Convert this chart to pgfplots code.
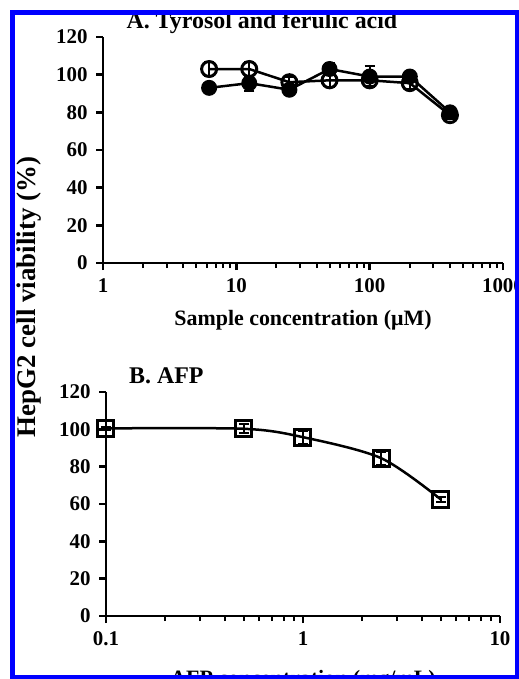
\documentclass[border=0pt]{standalone}
\usepackage{pgfplots}
\pgfplotsset{compat=1.18}
\usepackage{fontspec}
\setmainfont{Liberation Serif}

\pgfplotsset{
  panel/.style={
    scale only axis,
    axis lines*=left,
    axis line style={line width=2.5bp},
    ymin=0, ymax=120, ytick={0,20,...,120},
    tick align=outside,
    major tick length=7bp, minor tick length=5bp,
    major tick style={line width=2.5bp, black},
    minor tick style={line width=2bp, black},
    tick label style={font=\fontsize{21}{21}\selectfont\bfseries},
    xticklabel style={yshift=-5bp},
    yticklabel style={xshift=-5bp},
    /pgf/number format/assume math mode=true,
    xlabel style={font=\fontsize{22}{22}\selectfont\bfseries},
    title style={font=\fontsize{24}{24}\selectfont\bfseries, at={(0.05,1)}, anchor=base west, yshift=3bp},
    clip=false,
  },
  ebars/.style={
    /pgfplots/error bars/y dir=both,
    /pgfplots/error bars/y explicit,
    /pgfplots/error bars/error bar style={line width=2bp, black},
    /pgfplots/error bars/error mark options={rotate=90, mark size=5bp, line width=2bp, black},
  },
}

\begin{document}
\begin{tikzpicture}
\useasboundingbox (0,0) rectangle (519bp,-679bp);

% A: tyrosol and ferulic acid
\begin{semilogxaxis}[panel,
  at={(103bp,-263bp)}, anchor=south west,
  width=400bp, height=226bp,
  xmin=1, xmax=1000,
  xtick={1,10,100,1000}, xticklabels={1,10,100,1000},
  title={A. Tyrosol and ferulic acid},
  xlabel={Sample concentration (μM)},
  xlabel style={yshift=-11bp},
]
\addplot[black, line width=2.5bp, mark=*, mark size=7bp, mark options={fill=black, line width=2bp}, ebars]
  coordinates {
  (6.25,93) +- (0,1.5)
  (12.5,95.5) +- (0,4)
  (25,92) +- (0,2)
  (50,103) +- (0,3)
  (100,99) +- (0,5.5)
  (200,99) +- (0,2)
  (400,80) +- (0,1.5)
};
\addplot[black, line width=2.5bp, mark=o, mark size=7.5bp, mark options={line width=3bp}, ebars]
  coordinates {
  (6.25,103) +- (0,3.5)
  (12.5,103) +- (0,3.5)
  (25,96) +- (0,3)
  (50,97) +- (0,3.5)
  (100,97) +- (0,3)
  (200,95.5) +- (0,3)
  (400,78.5) +- (0,2)
};
\end{semilogxaxis}

% B: AFP
\begin{semilogxaxis}[panel,
  at={(106bp,-616bp)}, anchor=south west,
  width=394bp, height=224bp,
  xmin=0.1, xmax=10,
  xtick={0.1,1,10}, xticklabels={0.1,1,10},
  title={B. AFP},
  xlabel={AFP concentration (mg/mL)},
  xlabel style={yshift=-18bp},
]
\addplot[black, line width=2.5bp, smooth, tension=0.5, mark=square, mark size=8bp, mark options={line width=3bp}, ebars]
  coordinates {
  (0.1,100.5) +- (0,1)
  (0.5,100.3) +- (0,2.5)
  (1,95.8) +- (0,3.5)
  (2.5,84.5) +- (0,3.5)
  (5,62.5) +- (0,1.5)
};
\end{semilogxaxis}

\node[rotate=90, anchor=base, font=\fontsize{27}{27}\selectfont\bfseries]
  at (35bp,-297bp) {HepG2 cell viability (\%)};

% frame
\fill[white, even odd rule] (-5bp,5bp) rectangle (530bp,-690bp)
  (12.5bp,-12.5bp) rectangle (517bp,-677bp);
\draw[blue, line width=5bp] (12.5bp,-12.5bp) rectangle (517bp,-677bp);
\end{tikzpicture}
\end{document}
